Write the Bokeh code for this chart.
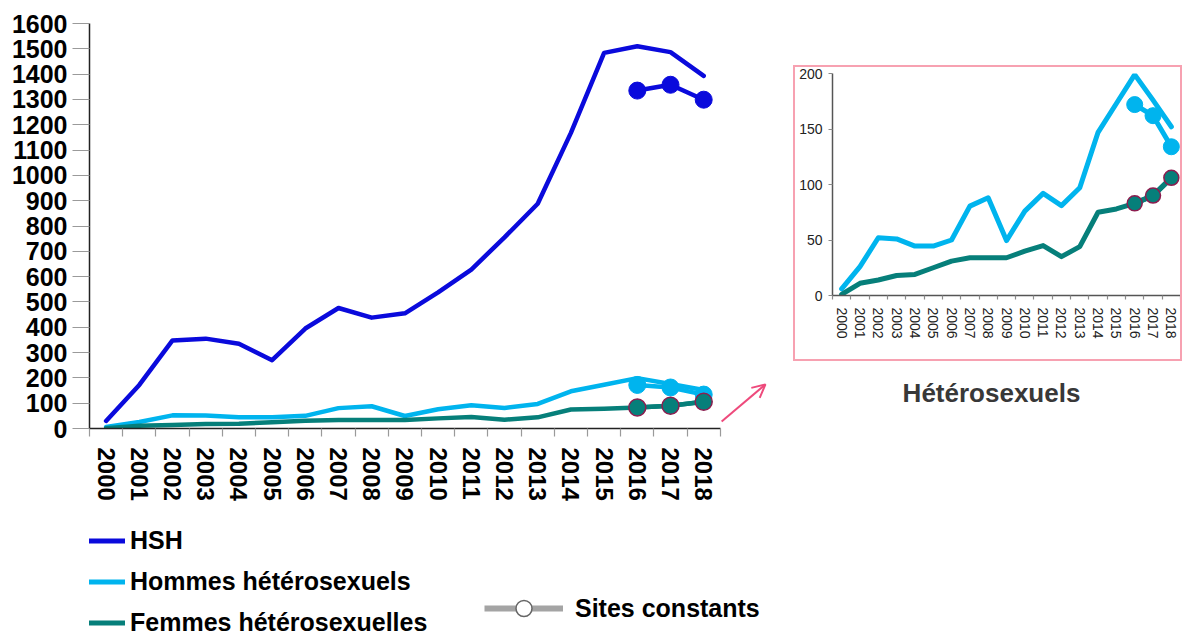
from bokeh.plotting import figure
from bokeh.models import (Range1d, FixedTicker, LinearAxis, Legend, LegendItem,
                          Arrow, OpenHead, Spacer)
from bokeh.core.properties import value
from bokeh.layouts import row, column
from bokeh.embed import file_html
from bokeh.resources import INLINE

# ---------------- data ----------------
years = [2000, 2001, 2002, 2003, 2004, 2005, 2006, 2007, 2008, 2009,
         2010, 2011, 2012, 2013, 2014, 2015, 2016, 2017, 2018]
hsh = [30, 172, 348, 355, 335, 270, 395, 476, 438, 455,
       538, 628, 755, 888, 1168, 1484, 1510, 1487, 1393]
hommes = [6, 26, 52, 51, 44.5, 44.5, 50, 80.5, 88, 49.5,
          76, 92, 81, 97, 147, 173, 199, 176, 152]
femmes = [1, 11, 14, 18, 19, 25, 31, 34, 34, 34,
          40, 45, 35, 44, 75, 78, 83, 90, 106]

sc_years = [2016, 2017, 2018]
hsh_sc = [1335, 1358, 1299]
hommes_sc = [172, 162, 134]
femmes_sc = [83, 90, 106]

main_yticks = [0, 100, 200, 300, 400, 500, 600, 700, 800, 900, 1000,
               1100, 1200, 1300, 1400, 1500, 1600]
inset_yticks = [0, 50, 100, 150, 200]
legend_labels = ["HSH", "Hommes hétérosexuels", "Femmes hétérosexuelles"]
sites_label = "Sites constants"
inset_title = "Hétérosexuels"

# ---------------- style ----------------
FONT = "Liberation Sans"
BLUE = "#0A0ADC"
LIGHT = "#00B4EE"
TEAL = "#067F7A"
MAROON = "#8C1D4F"
PINK = "#EE4A7C"
BOX = "#F7A1B1"

x0 = years[0] - 0.5
x1 = years[-1] + 0.5
bounds = [y - 0.5 for y in years] + [x1]

# main frame: 681 px wide, one year = 33.2 px; the extra room right of 2018 holds the arrow
MAIN_X_END = x0 + 681 / 33.2


def make_axes(p, yticks, lab_size, ylab_size, bold, ytick_out, ystandoff, xtick_out, xstandoff,
              axis_col, tick_col, lab_col):
    xax = LinearAxis(ticker=FixedTicker(ticks=years, minor_ticks=bounds), bounds=(x0, x1))
    xax.major_tick_line_color = None
    xax.major_tick_out = xtick_out
    xax.major_tick_in = 0
    xax.minor_tick_line_color = tick_col
    xax.minor_tick_out = xtick_out
    xax.minor_tick_in = 0
    xax.minor_tick_line_width = 1.2
    xax.axis_line_color = axis_col
    xax.axis_line_width = 1.5
    xax.major_label_orientation = "vertical"
    xax.major_label_standoff = xstandoff
    xax.major_label_text_font = FONT
    xax.major_label_text_font_size = lab_size
    xax.major_label_text_font_style = "bold" if bold else "normal"
    xax.major_label_text_color = lab_col
    p.add_layout(xax, "below")

    yax = LinearAxis(ticker=FixedTicker(ticks=yticks))
    yax.major_tick_line_color = tick_col
    yax.major_tick_out = ytick_out
    yax.major_tick_in = 0
    yax.minor_tick_line_color = None
    yax.axis_line_color = axis_col
    yax.axis_line_width = 1.5
    yax.major_label_standoff = ystandoff
    yax.major_label_text_font = FONT
    yax.major_label_text_font_size = ylab_size
    yax.major_label_text_font_style = "bold" if bold else "normal"
    yax.major_label_text_color = lab_col
    p.add_layout(yax, "left")


# ---------------- main chart ----------------
main = figure(width=793, height=506, output_backend="svg", toolbar_location=None,
              x_range=Range1d(x0, MAIN_X_END),
              y_range=Range1d(main_yticks[0], main_yticks[-1]),
              x_axis_type=None, y_axis_type=None,
              min_border_left=89, min_border_right=23, min_border_top=23, min_border_bottom=78)
main.outline_line_color = None
make_axes(main, main_yticks, "24px", "25px", True, 17, 5, 8, 11, "#222222", "#9A9A9A", "black")
kw = dict(line_width=4.5, line_join="round", line_cap="round")
main.line(years, hsh, line_color=BLUE, **kw)
main.line(years, hommes, line_color=LIGHT, **kw)
main.line(years, femmes, line_color=TEAL, **kw)
main.line(sc_years, hommes_sc, line_color=LIGHT, **kw)
main.scatter(sc_years, hommes_sc, size=17, fill_color=LIGHT, line_color=LIGHT)
main.line(sc_years, femmes_sc, line_color=TEAL, **kw)
main.scatter(sc_years, femmes_sc, size=17, fill_color=TEAL, line_color=MAROON, line_width=1.5)
main.line(sc_years, hsh_sc, line_color=BLUE, **kw)
main.scatter(sc_years, hsh_sc, size=17, fill_color=BLUE, line_color=BLUE)
main.add_layout(Arrow(end=OpenHead(size=13, line_color=PINK, line_width=2),
                      x_start=2018.54, y_start=28, x_end=2019.86, y_end=174,
                      line_color=PINK, line_width=2))

# ---------------- legend ----------------
leg = figure(width=793, height=131, output_backend="svg", toolbar_location=None,
             x_axis_type=None, y_axis_type=None,
             min_border_left=89, min_border_right=23, min_border_top=0, min_border_bottom=0,
             x_range=Range1d(0, 1), y_range=Range1d(0, 1))
leg.outline_line_color = None
# legend-only renderers: their data lie outside this figure's ranges
lw = dict(line_width=5, line_cap="round")
r_h = leg.line(years, hsh, line_color=BLUE, **lw)
r_m = leg.line(years, hommes, line_color=LIGHT, **lw)
r_f = leg.line(years, femmes, line_color=TEAL, **lw)
r_sl = leg.line(sc_years, hsh_sc, line_color="#A4A4A4", line_width=6)
r_sc = leg.scatter(sc_years, hsh_sc, fill_color="white", line_color="#666666", line_width=1.5)

common = dict(padding=0, margin=0, border_line_color=None, background_fill_alpha=0,
              label_text_font=FONT, label_text_font_size="25px",
              label_text_font_style="bold", label_text_color="black")
lg1 = Legend(items=[LegendItem(label=legend_labels[0], renderers=[r_h]),
                    LegendItem(label=legend_labels[1], renderers=[r_m]),
                    LegendItem(label=legend_labels[2], renderers=[r_f])],
             location=(0, 0), orientation="vertical", glyph_width=36, glyph_height=29,
             label_height=29, spacing=12, label_standoff=5, **common)
lg2 = Legend(items=[LegendItem(label=sites_label, renderers=[r_sl, r_sc])],
             location=(395, 9), glyph_width=79, glyph_height=40, label_height=29,
             label_standoff=12, **common)
leg.add_layout(lg1)
leg.add_layout(lg2)

# ---------------- inset ----------------
inset = figure(width=389, height=296, output_backend="svg", toolbar_location=None,
               x_range=Range1d(x0, x1),
               y_range=Range1d(inset_yticks[0], inset_yticks[-1]),
               x_axis_type=None, y_axis_type=None,
               min_border_left=37, min_border_right=4, min_border_top=6, min_border_bottom=68,
               styles={"border": "2px solid " + BOX})
inset.outline_line_color = None
make_axes(inset, inset_yticks, "14px", "14px", False, 4, 6, 4, 8, "#555555", "#8A8A8A", "#222222")
kw = dict(line_width=5, line_join="round", line_cap="round")
inset.line(years, hommes, line_color=LIGHT, **kw)
inset.line(years, femmes, line_color=TEAL, **kw)
inset.line(sc_years, hommes_sc, line_color=LIGHT, **kw)
inset.scatter(sc_years, hommes_sc, size=16, fill_color=LIGHT, line_color=LIGHT)
inset.line(sc_years, femmes_sc, line_color=TEAL, **kw)
inset.scatter(sc_years, femmes_sc, size=15, fill_color=TEAL, line_color=MAROON, line_width=1.5)

title_fig = figure(width=389, height=60, output_backend="svg", toolbar_location=None,
                   x_axis_type=None, y_axis_type=None,
                   min_border_left=37, min_border_right=4, min_border_top=0, min_border_bottom=0,
                   x_range=Range1d(0, 348), y_range=Range1d(0, 60))
title_fig.outline_line_color = None
title_fig.text(x=[161], y=[29], text=[inset_title], text_align="center",
               text_baseline="middle", text_font=value(FONT), text_font_size="26px",
               text_font_style="bold", text_color="#383838")

layout = row(column(main, leg), column(Spacer(width=389, height=65), inset, title_fig))

open("out.html", "w").write(file_html(layout, INLINE))
